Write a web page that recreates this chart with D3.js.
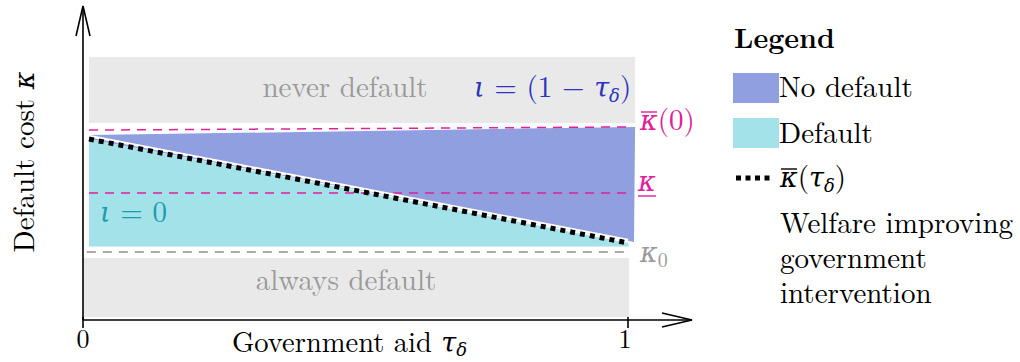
<!DOCTYPE html>
<html>
<head>
<meta charset="utf-8">
<script src="https://cdn.jsdelivr.net/npm/d3@7"></script>
<style>
  body { margin: 0; background: #fff; }
</style>
</head>
<body>
<svg id="chart" width="1020" height="362"></svg>
<script>
// region boundaries in (tau, kappa) units, kappa measured from the x axis
const neverBox = { x0: 0.011, x1: 1.013, y0: 0.749, y1: 1.0 };
const alwaysBox = { x0: 0.0, x1: 1.002, y0: 0.011, y1: 0.236 };
const noDefaultPoly = [[0.011, 0.703], [1.013, 0.734], [1.011, 0.297], [0.011, 0.688]];
const defaultPoly = [[0.011, 0.688], [1.0, 0.293], [1.002, 0.279], [0.011, 0.279]];
const kbarCurve = [[0.011, 0.688], [1.0, 0.293]];
const kbar0Line = [[0.011, 0.722], [1.0, 0.734]];
const kunderLine = [[0.011, 0.483], [1.0, 0.483]];
const kappa0Line = [[0.007, 0.259], [1.0, 0.259]];
const xTicks = [0, 1];

const colors = {
    noDefault: '#8f9fdf',
    def: '#a2e2e8',
    grey: '#e9e9e9',
    pink: '#e0209a',
    blueText: '#2b33c0',
    tealText: '#1a9cb0',
    greyText: '#9a9a9a'
};

const FS = 29;
const svg = d3.select('#chart').style('font-family', '"Latin Modern Roman", "Liberation Serif", serif');
const x = d3.scaleLinear().domain([0, 1]).range([83, 628]);
const y = d3.scaleLinear().domain([0, 1]).range([320, 57]);
const line = d3.line().x(d => x(d[0])).y(d => y(d[1]));

// greek letter in italic serif
function greek(t, ch, size, dy) {
    const s = t.append('tspan')
        .style('font-family', '"DejaVu Serif"')
        .style('font-style', 'italic')
        .text(ch);
    if (size) s.attr('font-size', size);
    if (dy) s.attr('dy', dy);
    return s;
}

// grey regions
[neverBox, alwaysBox].forEach(b => {
    svg.append('rect')
        .attr('x', x(b.x0)).attr('y', y(b.y1))
        .attr('width', x(b.x1) - x(b.x0))
        .attr('height', y(b.y0) - y(b.y1))
        .attr('fill', colors.grey);
});

svg.append('path').attr('d', line(defaultPoly) + 'Z').attr('fill', colors.def);
svg.append('path').attr('d', line(noDefaultPoly) + 'Z').attr('fill', colors.noDefault);

// dashed reference lines
svg.append('path').attr('d', line(kbar0Line)).attr('fill', 'none')
    .attr('stroke', colors.pink).attr('stroke-width', 1.5).attr('stroke-dasharray', '9,7');
svg.append('path').attr('d', line(kunderLine)).attr('fill', 'none')
    .attr('stroke', colors.pink).attr('stroke-width', 1.5).attr('stroke-dasharray', '9,7');
svg.append('path').attr('d', line(kappa0Line)).attr('fill', 'none')
    .attr('stroke', '#aaa').attr('stroke-width', 2).attr('stroke-dasharray', '9,7');

// kappa-bar(tau) dotted curve with white edge above
svg.append('path').attr('d', line(kbarCurve)).attr('fill', 'none')
    .attr('transform', 'translate(0,-3)')
    .attr('stroke', '#fff').attr('stroke-width', 2.5);
svg.append('path').attr('d', line(kbarCurve)).attr('fill', 'none')
    .attr('stroke', '#000').attr('stroke-width', 5).attr('stroke-dasharray', '5,5');

// axes with arrow heads
const axisG = svg.append('g').attr('stroke', '#000').attr('fill', 'none').attr('stroke-width', 1.6);
axisG.append('line').attr('x1', x(0)).attr('y1', y(0)).attr('x2', x(0)).attr('y2', 6);
axisG.append('path').attr('d', `M${x(0) - 7},36 L${x(0)},6 L${x(0) + 7},36`);
axisG.append('line').attr('x1', x(0)).attr('y1', y(0)).attr('x2', 692).attr('y2', y(0));
axisG.append('path').attr('d', `M662,${y(0) - 7} L692,${y(0)} L662,${y(0) + 7}`);

xTicks.forEach(t => {
    axisG.append('line').attr('x1', x(t)).attr('x2', x(t)).attr('y1', y(0) - 3).attr('y2', y(0) + 8);
    svg.append('text').attr('x', x(t) - (t === 1 ? 3 : 0)).attr('y', 348)
        .attr('text-anchor', 'middle').attr('font-size', 26).text(t);
});

// axis labels
const xl = svg.append('text').attr('x', 232).attr('y', 352).attr('font-size', 28.5);
xl.append('tspan').text('Government aid ');
greek(xl, 'τ', 27);
greek(xl, 'δ', 18, 4);

const yl = svg.append('text').attr('transform', 'translate(34,162) rotate(-90)')
    .attr('text-anchor', 'middle').attr('font-size', FS);
yl.append('tspan').text('Default cost ');
greek(yl, 'κ', 27);

// region labels
svg.append('text').attr('x', 345).attr('y', 97).attr('text-anchor', 'middle')
    .attr('font-size', FS).attr('fill', colors.greyText).text('never default');
svg.append('text').attr('x', 346).attr('y', 290).attr('text-anchor', 'middle')
    .attr('font-size', FS).attr('fill', colors.greyText).text('always default');

const iota1 = svg.append('text').attr('x', 474).attr('y', 97).attr('font-size', FS).attr('fill', colors.blueText);
greek(iota1, 'ι', 27);
iota1.append('tspan').text(' = (1 − ');
greek(iota1, 'τ', 27);
greek(iota1, 'δ', 18, 5);
iota1.append('tspan').attr('dy', -5).text(')');

const iota0 = svg.append('text').attr('x', 100).attr('y', 222).attr('font-size', FS).attr('fill', colors.tealText);
greek(iota0, 'ι', 27);
iota0.append('tspan').text(' = 0');

// right side labels
function kappaBar(g, px, py, color) {
    g.append('line').attr('x1', px + 1).attr('x2', px + 17)
        .attr('y1', py - 18).attr('y2', py - 18)
        .attr('stroke', color).attr('stroke-width', 1.4);
}
const kb0 = svg.append('text').attr('x', 640).attr('y', 130).attr('font-size', FS).attr('fill', colors.pink);
greek(kb0, 'κ', 27);
kb0.append('tspan').text('(0)');
kappaBar(svg, 640, 130, colors.pink);

const ku = svg.append('text').attr('x', 638).attr('y', 191).attr('font-size', FS).attr('fill', colors.pink);
greek(ku, 'κ', 27);
svg.append('line').attr('x1', 638).attr('x2', 656).attr('y1', 196).attr('y2', 196)
    .attr('stroke', colors.pink).attr('stroke-width', 1.4);

const k0 = svg.append('text').attr('x', 640).attr('y', 262).attr('font-size', FS).attr('fill', colors.greyText);
greek(k0, 'κ', 27);
k0.append('tspan').attr('font-size', 20).attr('dy', 5).text('0');

// legend
const legendItems = [
    { label: 'No default', color: colors.noDefault },
    { label: 'Default', color: colors.def }
];
svg.append('text').attr('x', 734).attr('y', 48).attr('font-size', 28)
    .attr('font-weight', 'bold').text('Legend');

legendItems.forEach((d, i) => {
    svg.append('rect').attr('x', 733).attr('y', 73 + i * 45).attr('width', 46).attr('height', 30).attr('fill', d.color);
    svg.append('text').attr('x', 779).attr('y', 97 + i * 46).attr('font-size', FS).text(d.label);
});

svg.append('line').attr('x1', 736).attr('x2', 774).attr('y1', 178).attr('y2', 178)
    .attr('stroke', '#000').attr('stroke-width', 5).attr('stroke-dasharray', '5,4.5');
const lk = svg.append('text').attr('x', 780).attr('y', 187).attr('font-size', FS);
greek(lk, 'κ', 27);
lk.append('tspan').text('(');
greek(lk, 'τ', 27);
greek(lk, 'δ', 18, 5);
lk.append('tspan').attr('dy', -5).text(')');
kappaBar(svg, 780, 187, '#000');

['Welfare improving', 'government', 'intervention'].forEach((t, i) => {
    svg.append('text').attr('x', 780).attr('y', 233 + i * 35).attr('font-size', FS).text(t);
});
</script>
</body>
</html>
